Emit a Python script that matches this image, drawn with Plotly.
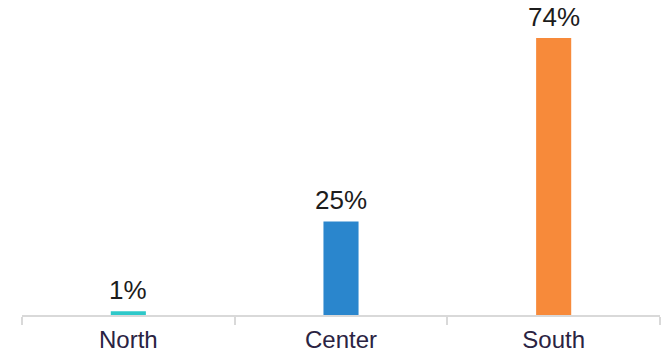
import plotly.graph_objects as go

# Share of total by region
regions = ["North", "Center", "South"]
shares = [1, 25, 74]
bar_colors = ["#2EC8C9", "#2A86CD", "#F78A3A"]
value_labels = [f"{v}%" for v in shares]

fig = go.Figure(
    go.Bar(
        x=regions,
        y=shares,
        width=0.165,
        marker=dict(color=bar_colors, line=dict(width=0)),
        hoverinfo="skip",
    )
)

# Value labels sitting just above each bar
for region, share, label in zip(regions, shares, value_labels):
    fig.add_annotation(
        x=region,
        y=share,
        text=label,
        showarrow=False,
        xanchor="center",
        yanchor="bottom",
        yshift=4,
        font=dict(family="Liberation Sans, Arial, sans-serif", size=26, color="#1c1c1c"),
    )

fig.update_layout(
    width=663,
    height=355,
    margin=dict(l=22, r=3, t=20, b=40),
    paper_bgcolor="white",
    plot_bgcolor="white",
    showlegend=False,
    font=dict(family="Liberation Sans, Arial, sans-serif"),
)

fig.update_xaxes(
    range=[-0.5, 2.5],
    automargin=False,
    showline=True,
    linecolor="#d9d9d9",
    linewidth=2,
    ticks="outside",
    tickson="boundaries",
    ticklen=8,
    tickwidth=2,
    tickcolor="#d9d9d9",
    showgrid=False,
    ticklabelstandoff=2,
    tickfont=dict(size=24, color="#2a2342"),
)

fig.update_yaxes(
    range=[0, 78.8],
    visible=False,
    showgrid=False,
    zeroline=False,
)

fig.write_html("out.html")
